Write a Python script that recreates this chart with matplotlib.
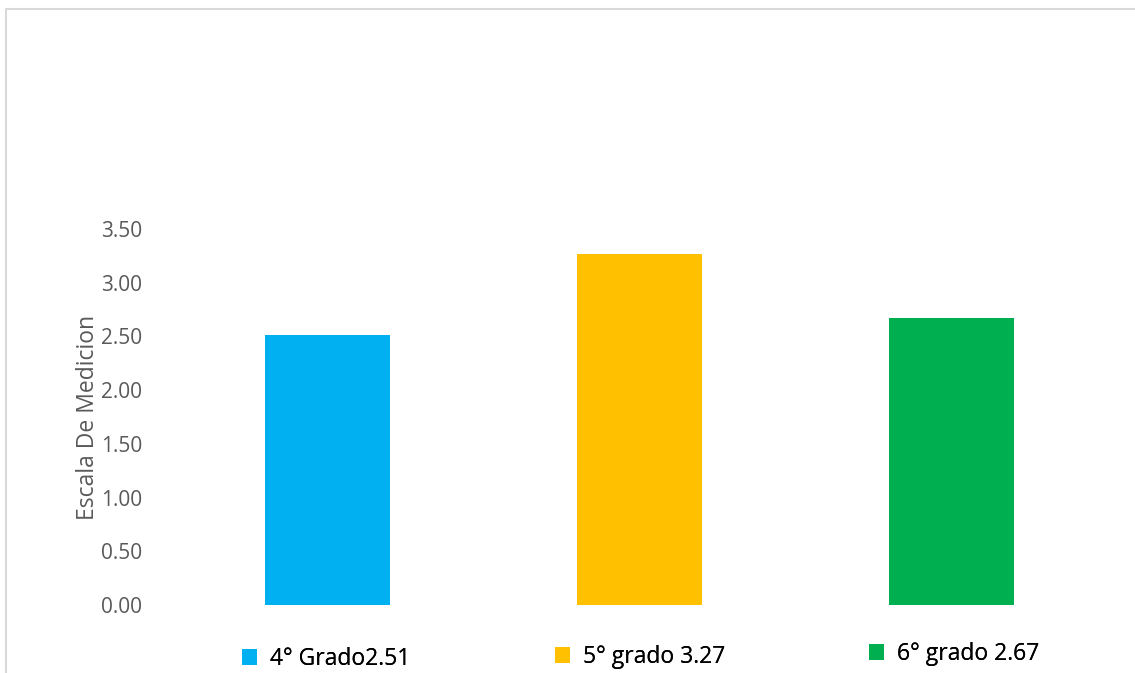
import matplotlib
matplotlib.use("Agg")
import matplotlib.pyplot as plt
from matplotlib.lines import Line2D

plt.rcParams['font.family'] = ['Open Sans', 'DejaVu Sans']

grados = ['4° Grado', '5° grado', '6° grado']
valores = [2.51, 3.27, 2.67]
etiquetas = ['4° Grado2.51', '5° grado 3.27', '6° grado 2.67']
colores = ['#00b0f0', '#ffc000', '#00b050']
yticks = [0.0, 0.5, 1.0, 1.5, 2.0, 2.5, 3.0, 3.5]

W, H = 1135, 673
fig = plt.figure(figsize=(W / 100, H / 100), dpi=100)
ax = fig.add_axes([171.5 / W, 68 / H, 936 / W, 376 / H])

bars = []
for i in range(len(valores)):
    b = ax.bar(i, valores[i], width=0.4, color=colores[i], label=etiquetas[i])
    bars.append(b)

ax.set_xlim(-0.5, 2.5)
ax.set_ylim(0, 3.5)
ax.set_yticks(yticks)
ax.set_yticklabels([f'{v:.2f}' for v in yticks], color='#595959', fontsize=15)
ax.set_xticks([])
ax.tick_params(axis='y', length=0, pad=21)
for s in ax.spines.values():
    s.set_visible(False)
ax.set_ylabel('Escala De Medicion', color='#595959', fontsize=16.5, labelpad=1)

# one legend entry per bar, like the excel layout (slightly staggered)
leg_x = [226, 539, 853]
leg_y = [659, 657, 654]
for i in range(len(bars)):
    lg = fig.legend([bars[i]], [etiquetas[i]], loc='center left',
                    bbox_to_anchor=(leg_x[i] / W, 1 - leg_y[i] / H),
                    frameon=False, fontsize=16.5, handlelength=0.65,
                    handleheight=0.65, handletextpad=0.55, borderpad=0.2)
    fig.add_artist(lg)

# chart border (top and left visible)
fig.add_artist(Line2D([6 / W, 6 / W, 1.0], [0.0, 1 - 9 / H, 1 - 9 / H],
                      transform=fig.transFigure, color='#d9d9d9', lw=1.5))

fig.savefig('out.png', dpi=100)
